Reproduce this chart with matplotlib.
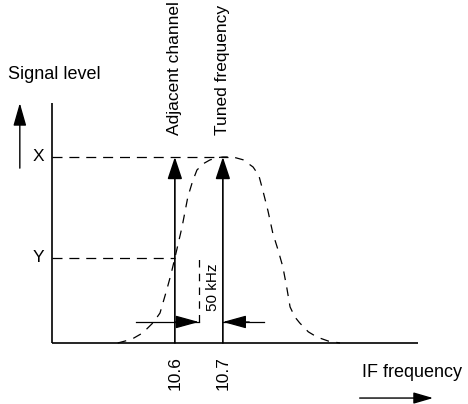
import numpy as np
import matplotlib.pyplot as plt

plt.rcParams['font.family'] = ['Liberation Sans', 'DejaVu Sans']

# IF filter response (frequency in MHz, relative level)
curve_freq = [10.481, 10.510, 10.533, 10.555, 10.569, 10.583, 10.592, 10.600, 10.615,
              10.627, 10.637, 10.646, 10.660, 10.673, 10.688, 10.700, 10.721, 10.742,
              10.763, 10.775, 10.783, 10.794, 10.804, 10.815, 10.825, 10.833, 10.840,
              10.850, 10.860, 10.878, 10.896, 10.920, 10.944]
curve_level = [0.0, 0.020, 0.054, 0.110, 0.161, 0.285, 0.370, 0.457, 0.624,
               0.785, 0.870, 0.930, 0.965, 0.984, 0.996, 1.0, 1.0, 0.985,
               0.946, 0.900, 0.823, 0.710, 0.591, 0.500, 0.409, 0.300, 0.194,
               0.140, 0.108, 0.060, 0.032, 0.010, 0.0]

channel_freqs = [10.6, 10.7]
channel_labels = ['10.6', '10.7']
channel_names = ['Adjacent channel', 'Tuned frequency']
level_names = ['X', 'Y']
level_values = [1.0, 0.457]
spacing_khz = 50

f0, f_end, top = 10.344, 11.106, 1.29

fig = plt.figure(figsize=(4.68, 4.04), dpi=100)
ax = fig.add_axes([0, 0, 1, 1])
ax.set_xlim(10.2357, 11.2107)
ax.set_ylim(-0.328, 1.844)
ax.axis('off')

# axes lines
ax.plot([f0, f0], [0, top], color='black', lw=1.2, solid_capstyle='butt')
ax.plot([f0, f_end], [0, 0], color='black', lw=1.2, solid_capstyle='butt')

# filter response
ax.plot(curve_freq, curve_level, color='black', lw=0.9, ls=(0, (7, 6)))

# level guide lines and labels
dash = (0, (8, 5.5))
ax.plot([f0, 10.71], [level_values[0]] * 2, color='black', lw=0.9, ls=dash)
ax.plot([f0, channel_freqs[0]], [level_values[1]] * 2, color='black', lw=0.9, ls=dash)
for name, lv in zip(level_names, level_values):
    ax.text(f0 - 0.029, lv, name, ha='center', va='center', fontsize=12.5)

# channel arrows, names and tick labels
for f, lab, name in zip(channel_freqs, channel_labels, channel_names):
    ax.annotate('', xy=(f, level_values[0]), xytext=(f, 0),
                arrowprops=dict(arrowstyle='-|>,head_length=1.35,head_width=0.45',
                                color='black', lw=1.2, shrinkA=0, shrinkB=0))
    ax.text(f, 1.118, name, rotation=90, ha='center', va='bottom', fontsize=12.5)
    ax.text(f, -0.072, lab, rotation=90, ha='center', va='top', fontsize=12.5)

# 50 kHz spacing marker
f_mid = channel_freqs[1] - spacing_khz / 1000
ax.plot([f_mid, f_mid], [0.113, 0.475], color='black', lw=0.9, ls=(0, (6, 5)))
ax.text(f_mid + 0.029, 0.30, f'{spacing_khz} kHz', rotation=90,
        ha='center', va='center', fontsize=11)
y_dim = 0.113
ax.plot([10.52, f_mid], [y_dim, y_dim], color='black', lw=0.9)
ax.plot([channel_freqs[1], 10.785], [y_dim, y_dim], color='black', lw=0.9)
ax.annotate('', xy=(f_mid, y_dim), xytext=(10.60, y_dim),
            arrowprops=dict(arrowstyle='-|>,head_length=1.45,head_width=0.4',
                            color='black', lw=0.9, shrinkA=0, shrinkB=0))
ax.annotate('', xy=(channel_freqs[1], y_dim), xytext=(10.755, y_dim),
            arrowprops=dict(arrowstyle='-|>,head_length=1.45,head_width=0.4',
                            color='black', lw=0.9, shrinkA=0, shrinkB=0))

# axis titles with direction arrows
ax.text(10.2524, 1.442, 'Signal level', ha='left', va='center', fontsize=13)
ax.annotate('', xy=(10.277, 1.29), xytext=(10.277, 0.94),
            arrowprops=dict(arrowstyle='-|>,head_length=1.4,head_width=0.4',
                            color='black', lw=1.0, shrinkA=0, shrinkB=0))
ax.text(10.990, -0.16, 'IF frequency', ha='left', va='center', fontsize=13)
ax.annotate('', xy=(11.138, -0.296), xytext=(10.985, -0.296),
            arrowprops=dict(arrowstyle='-|>,head_length=1.2,head_width=0.35',
                            color='black', lw=1.0, shrinkA=0, shrinkB=0))

fig.savefig('out.png', dpi=100)
